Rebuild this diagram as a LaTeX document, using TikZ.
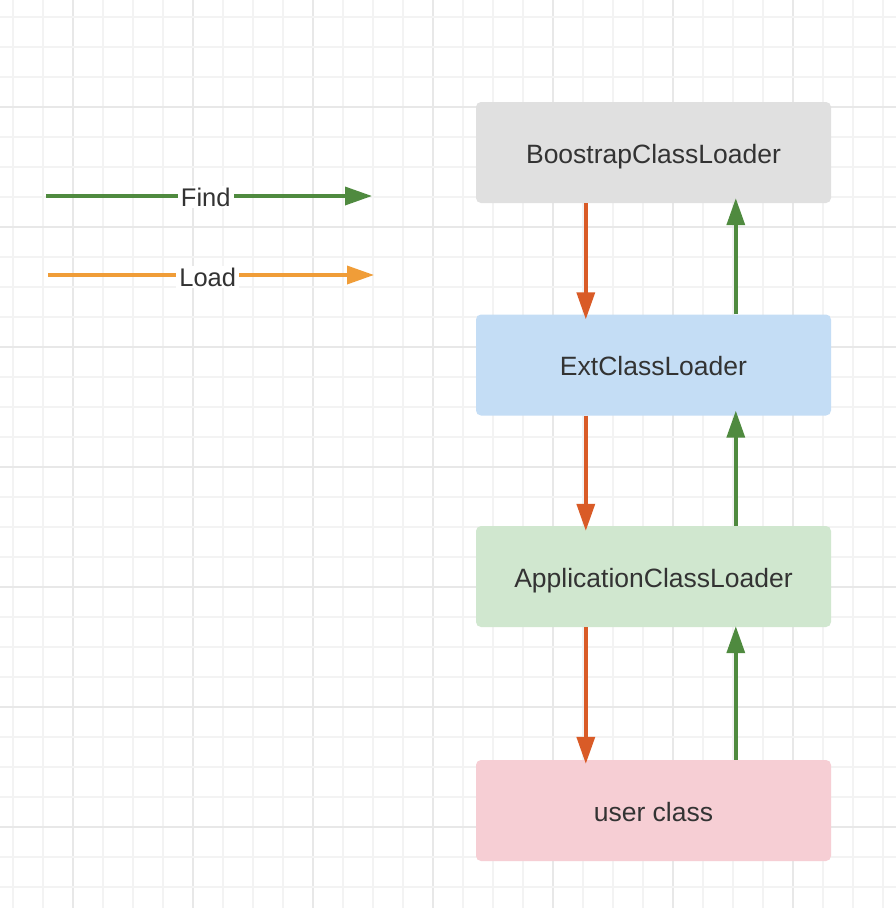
\documentclass[tikz,border=0pt]{standalone}
\usepackage{fontspec}
\setmainfont{Liberation Sans}
\usetikzlibrary{arrows.meta}
\definecolor{gridminor}{HTML}{F3F3F3}
\definecolor{gridmajor}{HTML}{E8E8E8}
\definecolor{findgreen}{HTML}{4F8A3F}
\definecolor{loadred}{HTML}{D95B27}
\definecolor{loadorange}{HTML}{F09D38}
\definecolor{txt}{HTML}{333333}
\definecolor{bootfill}{HTML}{E0E0E0}
\definecolor{extfill}{HTML}{C4DDF5}
\definecolor{appfill}{HTML}{D0E7CF}
\definecolor{userfill}{HTML}{F6CED4}
\tikzset{
  loaderbox/.style={rounded corners=5pt, minimum width=355pt, minimum height=101pt, inner sep=0pt,
    text height=21pt, text depth=0pt, text=txt, font=\fontsize{26.5}{30}\selectfont},
  findarrow/.style={draw=findgreen, line width=3.5pt, -{Triangle[length=27pt,width=18pt]}},
  loadarrow/.style={draw=loadred, line width=3.5pt, -{Triangle[length=27pt,width=18pt]}},
  legendorange/.style={draw=loadorange, line width=3.5pt, -{Triangle[length=27pt,width=18pt]}},
  legendlabel/.style={fill=white, text=txt, inner xsep=3pt, inner ysep=2pt, font=\fontsize{25.5}{30}\selectfont}
}
\begin{document}
\begin{tikzpicture}[x=1pt,y=-1pt]
\useasboundingbox (0,0) rectangle (896,908);
\fill[white] (0,0) rectangle (896,908);
% grid
\foreach \k in {0,...,29} {
  \pgfmathtruncatemacro{\m}{mod(\k,4)}
  \ifnum\m=2
    \draw[gridmajor, line width=2pt] (13+30*\k,0) -- (13+30*\k,908);
  \else
    \draw[gridminor, line width=2pt] (13+30*\k,0) -- (13+30*\k,908);
  \fi
}
\foreach \k in {0,...,29} {
  \pgfmathtruncatemacro{\m}{mod(\k,4)}
  \ifnum\m=3
    \draw[gridmajor, line width=2pt] (0,17+30*\k) -- (896,17+30*\k);
  \else
    \draw[gridminor, line width=2pt] (0,17+30*\k) -- (896,17+30*\k);
  \fi
}
% boxes
\node[loaderbox, fill=bootfill] (boot) at (653.5,152.5) {BoostrapClassLoader};
\node[loaderbox, fill=extfill] (ext) at (653.5,365) {ExtClassLoader};
\node[loaderbox, fill=appfill] (app) at (653.5,576.5) {ApplicationClassLoader};
\node[loaderbox, fill=userfill] (user) at (653.5,810.5) {user class};
% load arrows (down)
\draw[loadarrow, shorten >=-5pt] ([xshift=110pt]boot.south west) -- ([xshift=110pt]ext.north west);
\draw[loadarrow, shorten >=-5pt] ([xshift=110pt]ext.south west) -- ([xshift=110pt]app.north west);
\draw[loadarrow, shorten >=-4pt] ([xshift=110pt]app.south west) -- ([xshift=110pt]user.north west);
% find arrows (up)
\draw[findarrow, shorten >=-5pt] ([xshift=260pt]ext.north west) -- ([xshift=260pt]boot.south west);
\draw[findarrow, shorten >=-5pt] ([xshift=260pt]app.north west) -- ([xshift=260pt]ext.south west);
\draw[findarrow, shorten >=-1pt] ([xshift=260pt]user.north west) -- ([xshift=260pt]app.south west);
% legend
\coordinate (f1) at (46,196);
\coordinate (f2) at (372,196);
\coordinate (l1) at (48,275);
\coordinate (l2) at (374,275);
\draw[findarrow] (f1) -- node[legendlabel, pos=0.49, yshift=-1pt] {Find} (f2);
\draw[legendorange] (l1) -- node[legendlabel, pos=0.49, yshift=-2pt] {Load} (l2);
\end{tikzpicture}
\end{document}
